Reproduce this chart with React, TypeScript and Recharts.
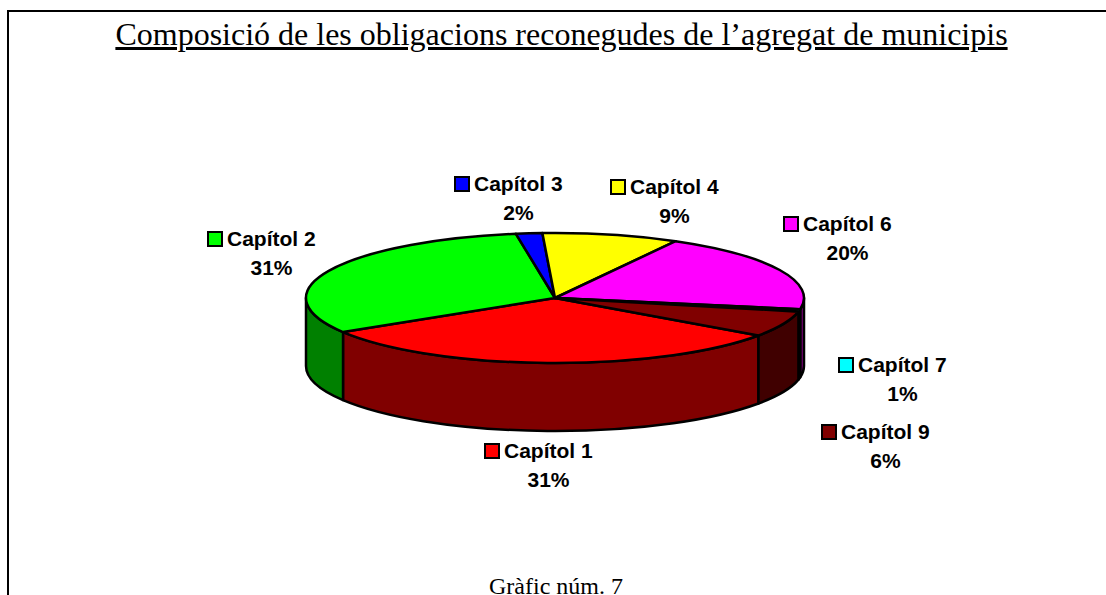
import * as React from 'react';
import { PieChart, Pie, Cell } from 'recharts';

const categories = ['Capítol 1', 'Capítol 2', 'Capítol 3', 'Capítol 4', 'Capítol 6', 'Capítol 7', 'Capítol 9'];
const shares = [31.4, 31.25, 1.7, 8.85, 19.7, 0.6, 6.4];
const percentLabels = ['31%', '31%', '2%', '9%', '20%', '1%', '6%'];
const topColors = ['#ff0000', '#00ff00', '#0000ff', '#ffff00', '#ff00ff', '#00ffff', '#800000'];
const sideColors = ['#800000', '#008000', '#000080', '#808000', '#800080', '#008080', '#400000'];

// swatch left edge and baseline of the first label line
const labelAnchors = [
  [484, 458],
  [207, 246],
  [454, 191],
  [610, 194],
  [783, 231],
  [838, 372],
  [821, 439]
];

const WIDTH = 1106;
const HEIGHT = 595;
const CX = 555;
const CY = 298;
const RX = 249;
const RY = 65;
const DEPTH = 68;
const START = -35.2;
const RAD = Math.PI / 180;

const ellipsePoint = (angle: number, dy = 0) => ({
  x: CX + RX * Math.cos(angle * RAD),
  y: CY + dy - RY * Math.sin(angle * RAD)
});

// top face of a slice, squashed into an ellipse
const TopSlice = (props: any) => {
  const { startAngle, endAngle, fill } = props;
  const a = ellipsePoint(startAngle);
  const b = ellipsePoint(endAngle);
  const large = Math.abs(startAngle - endAngle) > 180 ? 1 : 0;
  const d = `M${CX},${CY}L${a.x},${a.y}A${RX},${RY} 0 ${large} 1 ${b.x},${b.y}Z`;
  return <path d={d} fill={fill} stroke="#000" strokeWidth={2.5} strokeLinejoin="round" />;
};

// side wall, only the part of the slice that faces the viewer
const SideSlice = (props: any) => {
  const { startAngle, endAngle, fill } = props;
  const walls: React.ReactNode[] = [];
  // slices run clockwise, so startAngle > endAngle; the front is -180..0 (and -540..-360)
  [[-180, 0], [-540, -360]].forEach(([lo, hi]) => {
    const from = Math.min(startAngle, hi);
    const to = Math.max(endAngle, lo);
    if (from <= to) return;
    const a = ellipsePoint(from);
    const b = ellipsePoint(to);
    const c = ellipsePoint(to, DEPTH);
    const e = ellipsePoint(from, DEPTH);
    const d = `M${a.x},${a.y}A${RX},${RY} 0 0 1 ${b.x},${b.y}L${c.x},${c.y}A${RX},${RY} 0 0 0 ${e.x},${e.y}Z`;
    walls.push(<path key={lo} d={d} fill={fill} stroke="#000" strokeWidth={2.5} strokeLinejoin="round" />);
  });
  return <g>{walls}</g>;
};

const SliceLabel = (props: any) => {
  const { index } = props;
  const [x, y] = labelAnchors[index];
  const font = { fontFamily: 'Liberation Sans', fontWeight: 700, fontSize: 21, fill: '#000' };
  const textWidth = 89;
  return (
    <g>
      <rect x={x + 1} y={y - 14} width={14} height={14} fill={topColors[index]} stroke="#000" strokeWidth={2} />
      <text x={x + 20} y={y} {...font}>{categories[index]}</text>
      <text x={x + 20 + textWidth / 2} y={y + 29} textAnchor="middle" {...font}>{percentLabels[index]}</text>
    </g>
  );
};

const serif = 'Liberation Serif';

export default function App() {
  const data = categories.map((name, i) => ({ name, value: shares[i] }));
  return (
    <div style={{ position: 'absolute', left: 0, top: 0, width: WIDTH, height: HEIGHT, overflow: 'hidden', background: '#fff' }}>
      <div style={{ position: 'absolute', left: 7, top: 10, right: 0, bottom: -10, borderLeft: '2px solid #000', borderTop: '2px solid #000' }} />
      <div style={{ position: 'absolute', left: 0, width: 1123, top: 16, textAlign: 'center', fontFamily: serif, fontSize: 32, lineHeight: '36px', textDecoration: 'underline', whiteSpace: 'nowrap', color: '#000' }}>
        Composició de les obligacions reconegudes de l’agregat de municipis
      </div>
      <div style={{ position: 'absolute', left: 0, width: 1112, top: 573, textAlign: 'center', fontFamily: serif, fontSize: 24, lineHeight: '26px', color: '#000' }}>
        Gràfic núm. 7
      </div>
      <div style={{ position: 'absolute', left: 0, top: 0 }}>
        <PieChart width={WIDTH} height={HEIGHT} margin={{ top: 0, right: 0, bottom: 0, left: 0 }}>
          <Pie
            data={data}
            dataKey="value"
            cx={CX}
            cy={CY}
            outerRadius={RX}
            startAngle={START}
            endAngle={START - 360}
            stroke="none"
            shape={SideSlice}
            isAnimationActive={false}
          >
            {sideColors.map((c, i) => <Cell key={i} fill={c} />)}
          </Pie>
          <Pie
            data={data}
            dataKey="value"
            cx={CX}
            cy={CY}
            outerRadius={RX}
            startAngle={START}
            endAngle={START - 360}
            stroke="none"
            shape={TopSlice}
            label={SliceLabel}
            labelLine={false}
            isAnimationActive={false}
          >
            {topColors.map((c, i) => <Cell key={i} fill={c} />)}
          </Pie>
        </PieChart>
      </div>
    </div>
  );
}
